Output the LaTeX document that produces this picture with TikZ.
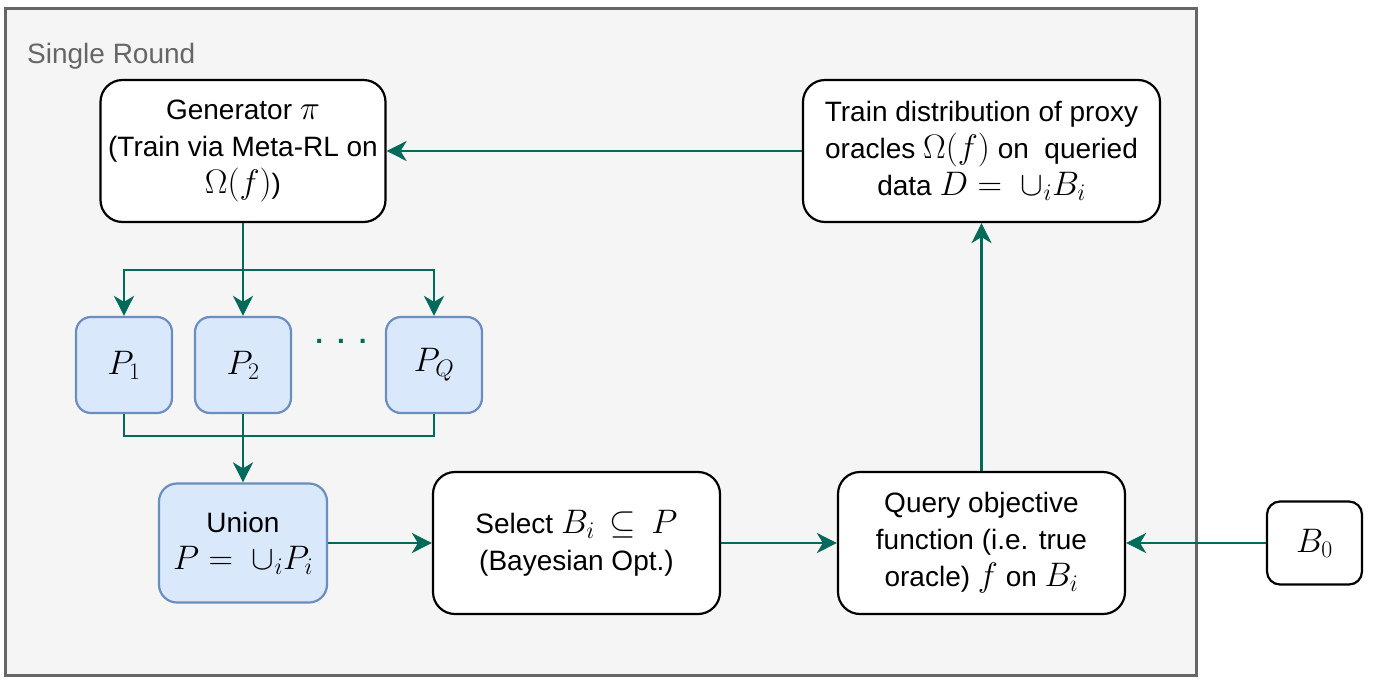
\RequirePackage{fix-cm}
\documentclass[tikz,border=0pt]{standalone}
\usepackage{fontspec}
\setmainfont{Liberation Sans}
\usepackage{amsmath}
\usetikzlibrary{arrows.meta}

\definecolor{flowgreen}{HTML}{006B5A}
\definecolor{roundgray}{HTML}{F5F5F5}
\definecolor{framegray}{HTML}{666666}
\definecolor{propblue}{HTML}{DAE8FC}
\definecolor{propedge}{HTML}{6C8EBF}
\newcommand{\mth}[1]{{\fontsize{34}{37}\selectfont$#1$}}

\begin{document}
\begin{tikzpicture}[x=1pt,y=-1pt,
        every node/.style={font=\fontsize{28}{37}\selectfont, align=center, inner sep=0pt},
        stage/.style={draw=black, line width=2.2pt, fill=white, rounded corners=22pt,
            minimum width=287pt, minimum height=142pt},
        prop/.style={draw=propedge, line width=2.2pt, fill=propblue, rounded corners=15pt,
            minimum width=96pt, minimum height=96pt},
        flowline/.style={draw=flowgreen, line width=2.5pt},
        flow/.style={flowline, -{Stealth[length=20pt,width=20pt,inset=6pt]}}]
        \useasboundingbox (0,0) rectangle (1373,686);
        \draw [framegray, fill=roundgray, line width=3pt] (5,8) rectangle (1196,675);
        \node [anchor=base west, text=framegray] (title) at (27,63) {Single Round};

        % top row
        \node [stage, minimum width=285pt] (gen) at (243,151)
            {Generator \mth{\pi}\\(Train via Meta-RL on\\\mth{\Omega(f)})};
        \node [stage, minimum width=357pt] (train) at (981.5,151)
            {Train distribution of proxy\\oracles \mth{\Omega(f)} on\ \ queried\\data \mth{D =\ \cup_i B_i}};

        % proposals
        \node [prop] (p1) at (124,365) {\mth{P_1}};
        \node [prop] (p2) at (243,365) {\mth{P_2}};
        \node [prop] (pq) at (434,365) {\mth{P_Q}};
        \node [text=flowgreen, font=\fontsize{28}{28}\selectfont\bfseries] (dots) at (341,341)
            {.\hspace{14pt}.\hspace{14pt}.};
        \coordinate (split) at (243,270);
        \coordinate (join) at (243,436);

        % bottom row
        \node [prop, minimum width=168pt, minimum height=119pt, rounded corners=18pt] (union)
            at (243,543) {Union\\\mth{P =\ \cup_i P_i}};
        \node [stage] (sel) at (576.5,543) {Select \mth{B_i\,\subseteq\,P}\\(Bayesian Opt.)};
        \node [stage] (query) at (981.5,543)
            {Query objective\\function (i.e. true\\oracle) \mth{f} on \mth{B_i}};
        \node [stage, minimum width=95pt, minimum height=83pt, rounded corners=13pt] (b0)
            at (1314.5,543) {\mth{B_0}};

        \draw [flow] (train) -- (gen);
        \draw [flow] (gen) -- (p2);
        \draw [flow] (split) -| (p1.north);
        \draw [flow] (split) -| (pq.north);
        \draw [flowline] (p1.south) |- (join);
        \draw [flowline] (pq.south) |- (join);
        \draw [flow] (p2) -- (union);
        \draw [flow] (union) -- (sel);
        \draw [flow] (sel) -- (query);
        \draw [flow] (b0) -- (query);
        \draw [flow] (query) -- (train);
\end{tikzpicture}
\end{document}
